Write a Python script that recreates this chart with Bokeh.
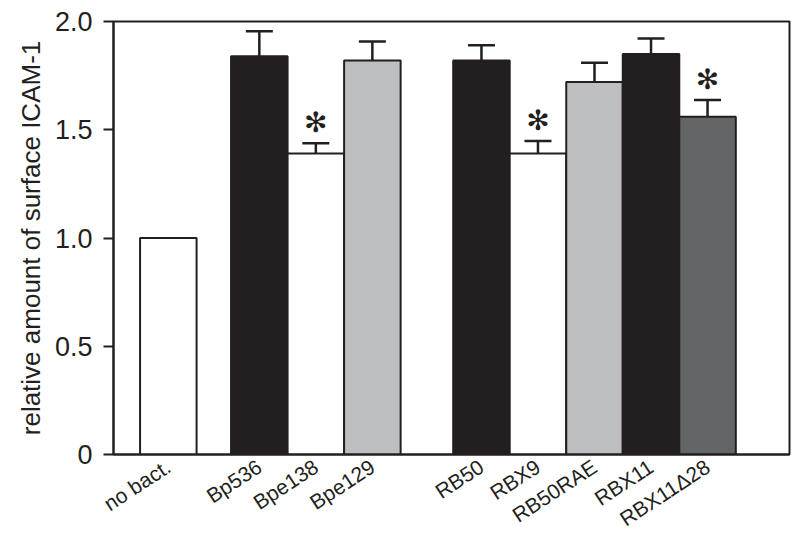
import math
from bokeh.plotting import figure
from bokeh.models import Range1d, FixedTicker, ColumnDataSource, Whisker, TeeHead
from bokeh.core.properties import value
from bokeh.embed import file_html
from bokeh.resources import INLINE

# ---- data ----
strains = ["no bact.", "Bp536", "Bpe138", "Bpe129",
           "RB50", "RBX9", "RB50RAE", "RBX11", "RBX11\u039428"]
groups = [0, 1, 1, 1, 2, 2, 2, 2, 2]
values = [1.00, 1.84, 1.39, 1.82, 1.82, 1.39, 1.72, 1.85, 1.56]
errors = [0.0, 0.115, 0.048, 0.088, 0.07, 0.058, 0.09, 0.072, 0.077]
significant = [False, False, True, False, False, True, False, False, True]
y_ticks = [0, 0.5, 1.0, 1.5, 2.0]
y_tick_labels = ["0", "0.5", "1.0", "1.5", "2.0"]

# ---- styles / layout ----
DARK = "#231f20"
fills = ["#ffffff", "#231f20", "#ffffff", "#bcbec0",
         "#231f20", "#ffffff", "#bcbec0", "#231f20", "#646567"]
group_start = [0.97, 2.58, 6.51]

xs = []
idx_in_group = {}
for g in groups:
    k = idx_in_group.get(g, 0)
    xs.append(group_start[g] + k)
    idx_in_group[g] = k + 1

src = ColumnDataSource(dict(x=xs, top=values, fill=fills))

p = figure(width=792, height=545, output_backend="svg", toolbar_location=None,
           x_range=Range1d(0, 11.96), y_range=Range1d(0, 2.0))
p.min_border_left = 113
p.min_border_top = 21
p.min_border_right = 3
p.min_border_bottom = 91
p.grid.visible = False
p.background_fill_color = "white"
p.border_fill_color = "white"
p.outline_line_color = DARK
p.outline_line_width = 2

p.vbar(x="x", top="top", bottom=0, width=1.0, source=src,
       fill_color="fill", line_color=DARK, line_width=2)

has_err = [i for i, e in enumerate(errors) if e > 0]
esrc = ColumnDataSource(dict(
    x=[xs[i] for i in has_err],
    upper=[values[i] + errors[i] for i in has_err],
    lower=[values[i] - errors[i] for i in has_err],
))
w = Whisker(base="x", upper="upper", lower="lower", source=esrc,
            line_color=DARK, line_width=2.5)
w.upper_head = TeeHead(size=27, line_color=DARK, line_width=2.5)
w.lower_head = TeeHead(size=27, line_color=DARK, line_width=2.5)
p.add_layout(w)

sig_idx = [i for i, s in enumerate(significant) if s]
ssrc = ColumnDataSource(dict(
    x=[xs[i] for i in sig_idx],
    y=[values[i] + errors[i] for i in sig_idx],
    t=["\u273b" for _ in sig_idx],
))
p.text(x="x", y="y", text="t", source=ssrc, text_align="center",
       text_baseline="middle", text_font=value("DejaVu Sans"),
       text_font_size="28px", text_font_style="bold", text_color=DARK,
       y_offset=-21)

# y axis
ya = p.yaxis[0]
ya.ticker = FixedTicker(ticks=y_ticks)
ya.major_label_overrides = {t: l for t, l in zip(y_ticks, y_tick_labels)}
ya.axis_label = "relative amount of surface ICAM-1"
ya.axis_label_text_font = "Liberation Sans"
ya.axis_label_text_font_style = "normal"
ya.axis_label_text_font_size = "26px"
ya.axis_label_text_color = DARK
ya.major_label_text_font = "Liberation Sans"
ya.major_label_text_font_size = "27px"
ya.major_label_text_color = DARK
ya.axis_line_color = DARK
ya.axis_line_width = 2
ya.major_tick_line_color = DARK
ya.major_tick_line_width = 2
ya.major_tick_out = 10
ya.major_tick_in = 0
ya.minor_tick_line_color = None
ya.major_label_standoff = 11
ya.axis_label_standoff = 6

# x axis
xa = p.xaxis[0]
xa.ticker = FixedTicker(ticks=xs)
xa.major_label_overrides = {x: s for x, s in zip(xs, strains)}
xa.major_label_orientation = 0.58
xa.major_label_text_font = "Liberation Sans"
xa.major_label_text_font_size = "21px"
xa.major_label_text_color = DARK
xa.axis_line_color = DARK
xa.axis_line_width = 2
xa.major_tick_line_color = None
xa.minor_tick_line_color = None
xa.major_label_standoff = 4

open("out.html", "w").write(file_html(p, INLINE))
